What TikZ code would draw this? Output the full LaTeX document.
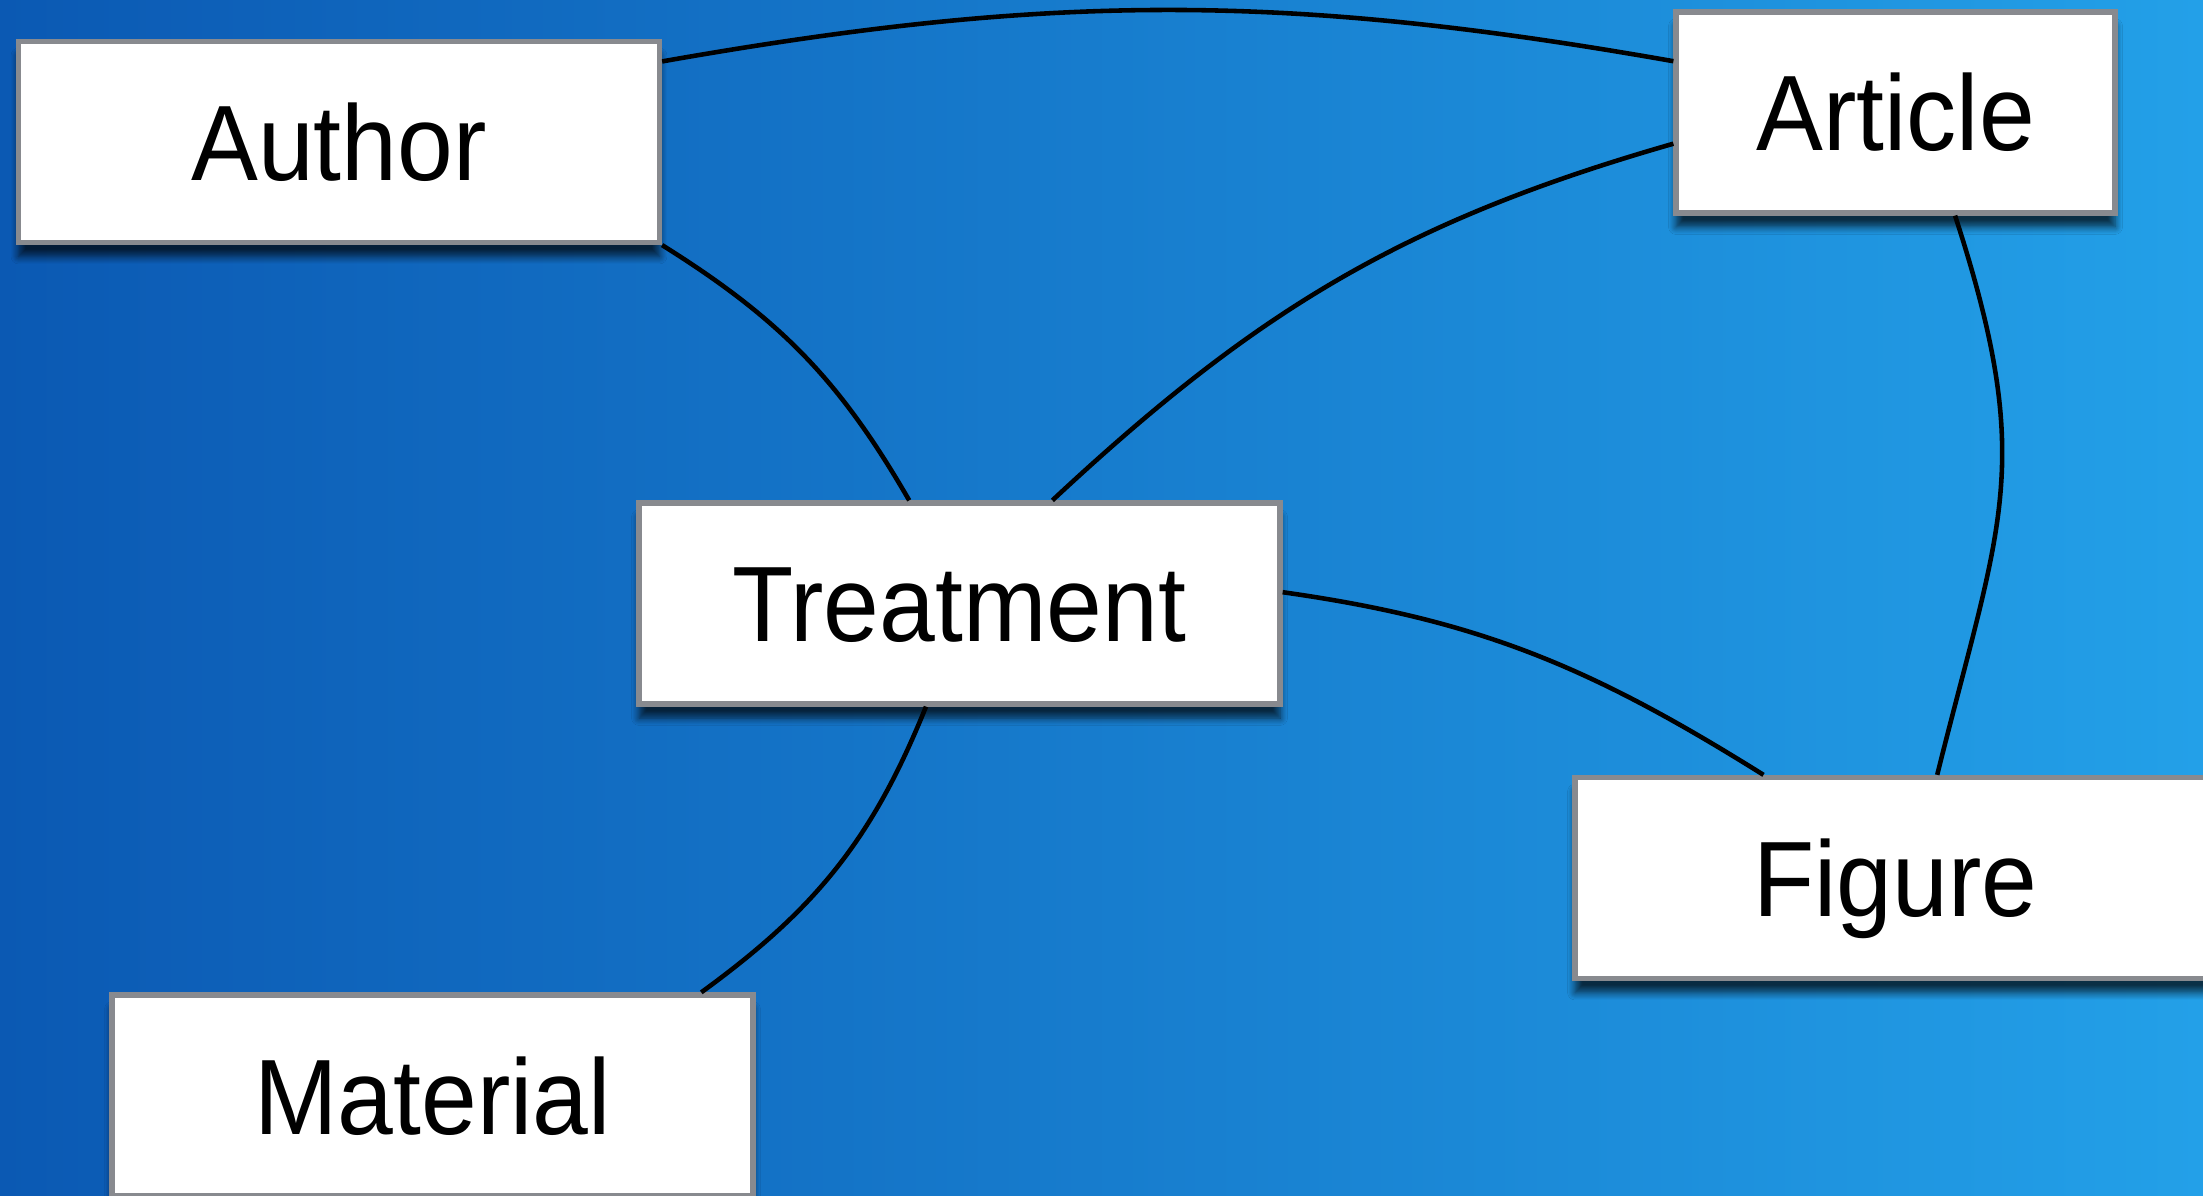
\documentclass[tikz,border=0pt]{standalone}
\usepackage{fontspec}
\setmainfont{Liberation Sans}[FakeStretch=0.935]
\usetikzlibrary{shadows.blur}

\definecolor{bgleft}{RGB}{11,89,179}
\definecolor{bgright}{RGB}{35,160,232}
\definecolor{boxedge}{RGB}{136,138,143}

\tikzset{
  entity/.style={rectangle, draw=boxedge, line width=1.5pt, fill=white,
    minimum width=6.41cm, minimum height=2.01cm, inner sep=0pt,
    text height=0.77cm, text depth=0cm,
    font=\fontsize{30.5}{36}\selectfont,
    blur shadow={shadow xshift=0cm, shadow yshift=-0.14cm, shadow opacity=70, shadow blur steps=8}},
  link/.style={line width=1.3pt, black}
}

\begin{document}
\begin{tikzpicture}
  % Background
  \shade[left color=bgleft, right color=bgright] (0,0) rectangle (22.03,-11.96);
  \useasboundingbox (0,0) rectangle (22.03,-11.96);

  % Entities
  \node[entity] (author) at (3.39,-1.42) {Author};
  \node[entity, minimum width=4.39cm] (article) at (18.955,-1.125) {Article};
  \node[entity] (treatment) at (9.595,-6.035) {Treatment};
  \node[entity] (figure) at (18.955,-8.78) {Figure};
  \node[entity] (material) at (4.325,-10.955) {Material};

  % Links
  \draw[link] (author.14) to[out=10, in=170] (article.167);
  \draw[link] (author.south east) to[out=-32, in=120] (treatment.116);
  \draw[link] (article.188) to[out=196, in=43] (treatment.48);
  \draw[link] (article.-60) to[out=-72, in=76, looseness=1.2] (figure.68);
  \draw[link] (treatment.2) to[out=-8, in=148] (figure.142);
  \draw[link] (treatment.252) to[out=248, in=36] (material.21);

\end{tikzpicture}
\end{document}
